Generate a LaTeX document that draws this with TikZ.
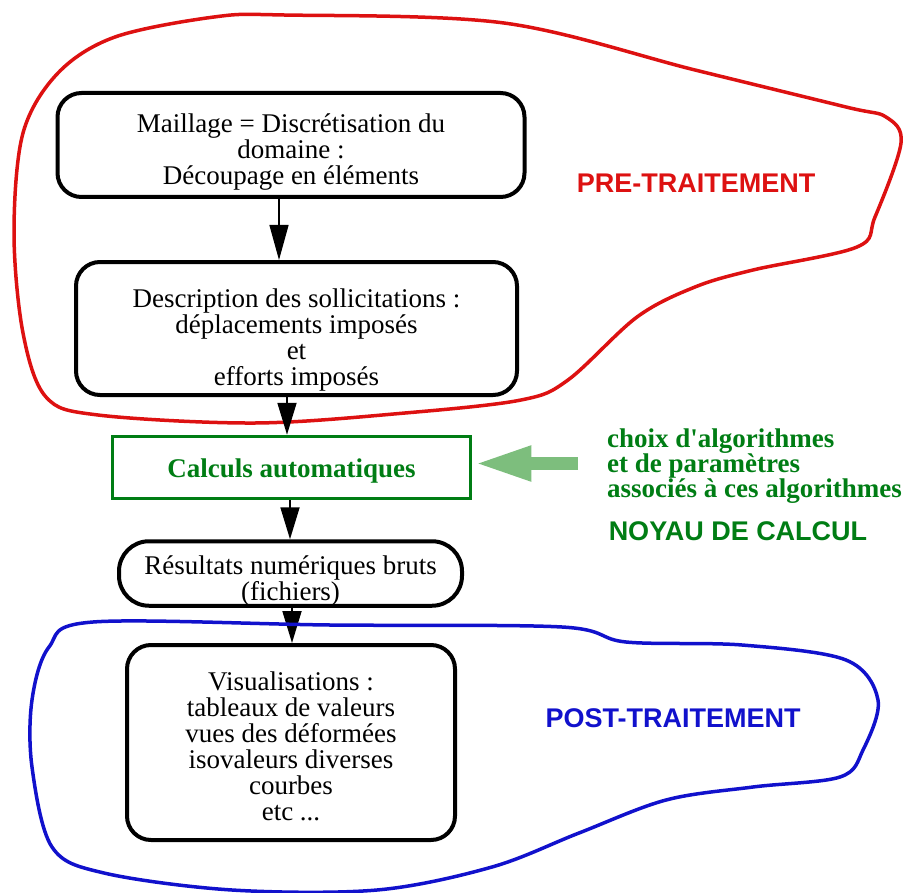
\documentclass[tikz,border=0pt]{standalone}
\usepackage{fontspec}
\setmainfont{Liberation Serif}
\newfontfamily\zonefont{Liberation Sans}
\newfontfamily\choixfont{Liberation Serif}
\usetikzlibrary{arrows.meta}
\definecolor{prered}{RGB}{221,17,17}
\definecolor{postblue}{RGB}{17,17,204}
\definecolor{calcgreen}{RGB}{0,125,20}
\definecolor{paramgreen}{RGB}{125,190,125}
\newcommand\boxfont{\fontsize{27}{26}\selectfont}
% strut to push the text of a box down
\newcommand\topgap[1]{\rule{0pt}{#1}}

\begin{document}
\begin{tikzpicture}[x=1pt,y=-1pt,
  box/.style={draw,line width=4pt,rounded corners=24pt,fill=white,align=center,inner sep=0pt,font=\boxfont},
  calcbox/.style={draw=calcgreen,line width=3.5pt,fill=white,inner sep=0pt,text=calcgreen,font=\bfseries\boxfont},
  flow/.style={line width=1.8pt,-{Triangle[length=32pt,width=19pt]}},
  zonelabel/.style={inner sep=0pt,font=\zonefont\bfseries\fontsize{27}{27}\selectfont}]
  \useasboundingbox (0,0) rectangle (904,893);
  \draw[prered,line width=3.5pt] plot[smooth cycle,tension=.55] coordinates {(504,23) (695,70) (846,107) (886,117) (901,143) (875,217) (857,247) (753,270) (695,287) (637,317) (568,380) (521,400) (405,413) (255,423) (98,415) (46,397) (23,333) (14,233) (23,133) (58,73) (115,37) (214,17) (284,15)};
  \node[box,minimum width=467pt,minimum height=104pt] (maillage) at (291,145) {\topgap{33pt}Maillage = Discrétisation du\\domaine :\\Découpage en éléments};
  \node[box,minimum width=441pt,minimum height=133pt] (sollicit) at (296.5,328.5) {\topgap{41pt}Description des sollicitations :\\déplacements imposés\\et\\efforts imposés};
  \node[calcbox,minimum width=358pt,minimum height=62pt] (calculs) at (291.5,467.5) {\topgap{25pt}Calculs automatiques};
  \node[box,rounded corners=30pt,minimum width=343pt,minimum height=63pt,font=\fontsize{27}{23}\selectfont] (resultats) at (290.5,573.5) {\topgap{33pt}Résultats numériques bruts\\(fichiers)};
  \node[box,minimum width=328pt,minimum height=195pt] (visu) at (291,742.5) {\topgap{27pt}Visualisations :\\tableaux de valeurs\\vues des déformées\\isovaleurs diverses\\courbes\\etc ...};
  \draw[flow,line width=1.3pt,-{Triangle[length=35pt,width=19pt]}] ([xshift=-12pt]maillage.south) -- ([xshift=-17.5pt]sollicit.north);
  \draw[flow] ([xshift=-9.5pt]sollicit.south) -- ([xshift=-4.5pt]calculs.north);
  \draw[flow] ([xshift=-1.5pt]calculs.south) -- ([xshift=-0.5pt]resultats.north);
  \draw[flow] ([xshift=1.5pt]resultats.south) -- ([xshift=1pt]visu.north);
  \draw[postblue,line width=3.5pt] plot[smooth cycle,tension=.55] coordinates {(93,622) (330,625) (562,627) (626,642) (742,645) (846,660) (878,700) (863,750) (840,777) (753,787) (666,800) (579,833) (492,867) (377,890) (232,890) (104,873) (52,847) (32,767) (32,700) (49,647)};
  \coordinate (choixpt) at (578,463.5);
  \draw[paramgreen,line width=13pt,-{Triangle[length=57pt,width=32pt]}] (choixpt) -- ([xshift=2pt]choixpt -| calculs.east);
  \node[calcgreen,font=\choixfont\bfseries\fontsize{27}{25}\selectfont,align=left,anchor=west,inner sep=0pt] (choix) at (607,466) {choix d'algorithmes\\et de paramètres\\associés à ces algorithmes};
  \node[zonelabel,text=prered] (pre) at (696,183) {PRE-TRAITEMENT};
  \node[zonelabel,text=calcgreen] (noyau) at (738,531) {NOYAU DE CALCUL};
  \node[zonelabel,text=postblue] (post) at (673,718) {POST-TRAITEMENT};
\end{tikzpicture}
\end{document}
